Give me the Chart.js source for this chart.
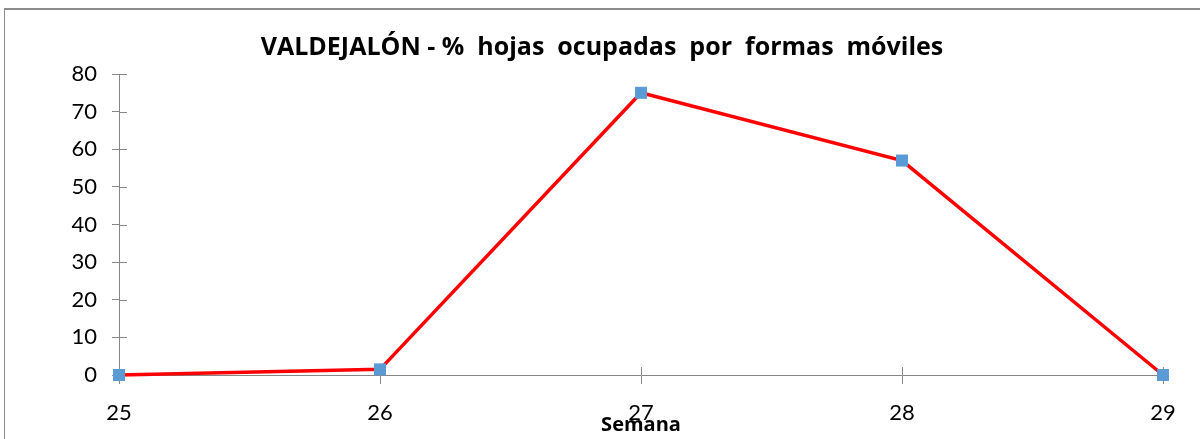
<!DOCTYPE html>
<html>
<head>
<meta charset="utf-8">
<script src="https://cdn.jsdelivr.net/npm/chart.js@4.4.1/dist/chart.umd.min.js"></script>
<style>
  html, body { margin: 0; padding: 0; background: #fff; }
  .wrap { position: relative; width: 1200px; height: 439px; overflow: hidden; }
  .frame { position: absolute; left: 4px; top: 8px; width: 1210px; height: 450px; border-left: 1px solid #8c8c8c; border-top: 2px solid #8c8c8c; }
  canvas { position: absolute; left: 0; top: 0; }
</style>
</head>
<body>
<div class="wrap">
  <div class="frame"></div>
  <canvas id="chart" width="1200" height="439"></canvas>
</div>
<script>
// semanas (eje X) y % de hojas ocupadas
const semanas = ['25', '26', '27', '28', '29'];
const porcentaje = [0, 1.5, 75, 57, 0];
const yMin = 0, yMax = 80, yStep = 10;

const AXIS = '#868686';
const FONT = 'Lato, "Open Sans", sans-serif';
const TITLE_FONT = '"Open Sans", Lato, sans-serif';

// Excel style tick marks that cross the axis (inner half)
const innerTicks = {
  id: 'innerTicks',
  beforeDatasetsDraw(chart) {
    const { ctx, chartArea, scales } = chart;
    ctx.save();
    ctx.strokeStyle = AXIS;
    ctx.lineWidth = 1;
    ctx.beginPath();
    scales.y.ticks.forEach((t) => {
      const y = Math.round(scales.y.getPixelForValue(t.value)) + 0.5;
      ctx.moveTo(chartArea.left, y);
      ctx.lineTo(chartArea.left + 8, y);
    });
    scales.x.ticks.forEach((t, i) => {
      const x = Math.round(scales.x.getPixelForTick(i)) + 0.5;
      ctx.moveTo(x, chartArea.bottom);
      ctx.lineTo(x, chartArea.bottom - 8);
    });
    ctx.stroke();
    ctx.restore();
  }
};

new Chart(document.getElementById('chart'), {
  type: 'line',
  data: {
    labels: semanas,
    datasets: [{
      data: porcentaje,
      borderColor: '#ff0000',
      borderWidth: 3.5,
      tension: 0,
      pointStyle: 'rect',
      pointRadius: 8.5,
      pointBackgroundColor: '#5b9bd5',
      pointBorderColor: '#5b9bd5',
      pointBorderWidth: 0,
      clip: false
    }]
  },
  options: {
    responsive: false,
    animation: false,
    layout: { padding: { left: 41, right: 37, top: 0, bottom: 0 } },
    plugins: {
      legend: { display: false },
      tooltip: { enabled: false },
      title: {
        display: true,
        text: 'VALDEJALÓN - %  hojas  ocupadas  por  formas  móviles',
        color: '#000',
        font: { family: TITLE_FONT, size: 25, weight: 'bold', lineHeight: 1.2 },
        padding: { top: 33, bottom: 11 }
      }
    },
    scales: {
      x: {
        offset: false,
        afterFit(scale) { scale.height = 64; },
        grid: { drawOnChartArea: false, drawTicks: true, tickLength: 9, color: AXIS },
        border: { color: AXIS, width: 1 },
        ticks: { color: '#000', padding: 16, maxRotation: 0, font: { family: FONT, size: 22 } },
        title: {
          display: true,
          text: 'Semana',
          color: '#000',
          font: { family: TITLE_FONT, size: 20, weight: 'bold', lineHeight: 1.2 },
          padding: { top: 0, bottom: 2 }
        }
      },
      y: {
        min: yMin,
        max: yMax,
        afterFit(scale) { scale.width = 78; },
        grid: { drawOnChartArea: false, drawTicks: true, tickLength: 7, color: AXIS },
        border: { color: AXIS, width: 1 },
        ticks: { stepSize: yStep, color: '#000', padding: 15, font: { family: FONT, size: 22 } }
      }
    }
  },
  plugins: [innerTicks]
});
</script>
</body>
</html>
